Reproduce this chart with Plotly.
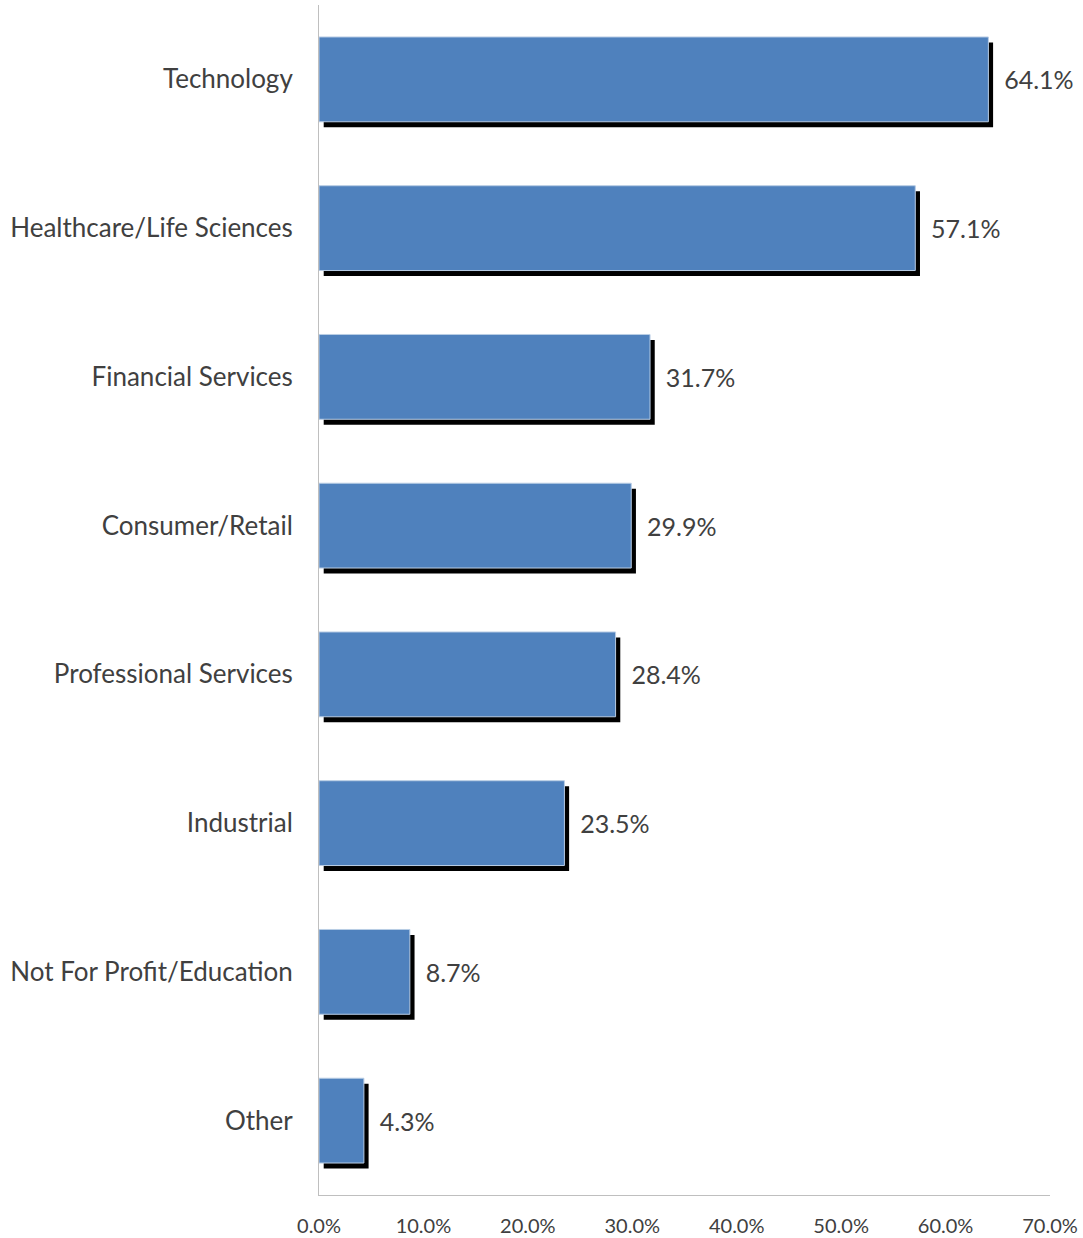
import plotly.graph_objects as go

categories = [
    "Technology",
    "Healthcare/Life Sciences",
    "Financial Services",
    "Consumer/Retail",
    "Professional Services",
    "Industrial",
    "Not For Profit/Education",
    "Other",
]
shares = [64.1, 57.1, 31.7, 29.9, 28.4, 23.5, 8.7, 4.3]
tick_values = [0, 10, 20, 30, 40, 50, 60, 70]
tick_labels = ["0.0%", "10.0%", "20.0%", "30.0%", "40.0%", "50.0%", "60.0%", "70.0%"]

BAR_WIDTH = 0.57
SHADOW_DX = 0.45      # shadow shift along value axis (percent units)
SHADOW_DY = 0.037     # shadow shift along category axis (category units)
FONT = "Lato, 'Open Sans', sans-serif"
TEXT = "#404040"

fig = go.Figure()

# drop shadow behind each bar
fig.add_trace(go.Bar(
    y=categories,
    x=shares,
    base=[SHADOW_DX] * len(shares),
    orientation="h",
    width=BAR_WIDTH,
    offset=-BAR_WIDTH / 2 + SHADOW_DY,
    marker=dict(color="#000000", line=dict(width=0)),
    hoverinfo="skip",
    showlegend=False,
))

# main bars with value labels
fig.add_trace(go.Bar(
    y=categories,
    x=shares,
    orientation="h",
    width=BAR_WIDTH,
    offset=-BAR_WIDTH / 2,
    marker=dict(color="#4F81BD", line=dict(color="#B9CDE5", width=1)),
    text=[f"  {v:.1f}%" for v in shares],
    textposition="outside",
    textfont=dict(family=FONT, size=25, color=TEXT),
    constraintext="none",
    cliponaxis=False,
    showlegend=False,
))

fig.update_layout(
    width=1083,
    height=1238,
    margin=dict(l=319, r=33, t=5, b=43),
    barmode="overlay",
    plot_bgcolor="white",
    paper_bgcolor="white",
    font=dict(family=FONT, color=TEXT),
)

fig.update_xaxes(
    range=[0, 70],
    tickvals=tick_values,
    ticktext=tick_labels,
    tickfont=dict(family=FONT, size=20, color=TEXT),
    showgrid=False,
    zeroline=False,
    showline=True,
    linecolor="#BFBFBF",
    linewidth=1,
    ticks="",
    ticklabelstandoff=13,
    automargin=False,
)

fig.update_yaxes(
    categoryorder="array",
    categoryarray=categories,
    autorange="reversed",
    tickfont=dict(family=FONT, size=26, color=TEXT),
    showgrid=False,
    zeroline=False,
    showline=True,
    linecolor="#BFBFBF",
    linewidth=1,
    ticks="",
    ticklabelstandoff=20,
    automargin=False,
)

fig.write_html("out.html")
